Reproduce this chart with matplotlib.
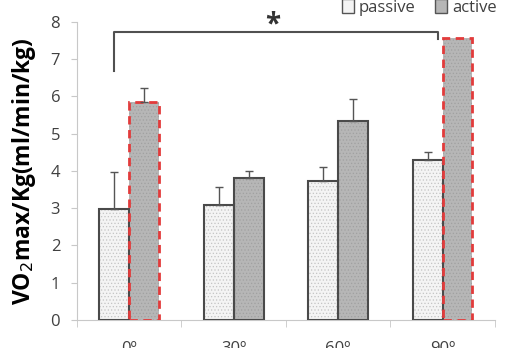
import matplotlib.pyplot as plt
import numpy as np
from matplotlib.patches import Patch

# data
angles = ['0º', '30º', '60º', '90º']
passive = [2.97, 3.08, 3.72, 4.30]
active = [5.85, 3.82, 5.35, 7.57]
passive_err = [1.00, 0.50, 0.38, 0.20]
active_err = [0.37, 0.18, 0.57, 0.0]
highlight = [True, False, False, True]  # red dashed active bars

plt.rcParams['font.family'] = ['Open Sans', 'DejaVu Sans']
plt.rcParams['hatch.linewidth'] = 0.5

fig = plt.figure(figsize=(5.09, 3.48), dpi=100)
ax = fig.add_axes([0.151, 0.0805, 0.821, 0.857])

x = np.arange(len(angles))
w = 0.287
dark = '#4a4a4a'

# passive bars: dotted fill, then outline
plt.rcParams['hatch.color'] = '#c4c4c4'
ax.bar(x - w / 2, passive, w, color='#f4f4f4', hatch='.....', edgecolor='#c4c4c4', linewidth=0, zorder=2)
ax.bar(x - w / 2, passive, w, fill=False, edgecolor=dark, linewidth=1.5, zorder=3)

# active bars
ax.bar(x + w / 2, active, w, color='#b6b6b6', hatch='.....', edgecolor='#a0a0a0', linewidth=0, zorder=2)
for i in range(len(angles)):
    if highlight[i]:
        ax.bar(x[i] + w / 2, active[i], w, fill=False, edgecolor='#e23b3b', linewidth=2,
               linestyle=(0, (3, 2)), zorder=3)
    else:
        ax.bar(x[i] + w / 2, active[i], w, fill=False, edgecolor=dark, linewidth=1.5, zorder=3)

# error bars, upper only
ax.errorbar(x - w / 2, passive, yerr=[np.zeros(4), passive_err], fmt='none',
            ecolor='#555555', elinewidth=1, capsize=3, zorder=4)
ae = np.array(active_err)
m = ae > 0
ax.errorbar((x + w / 2)[m], np.array(active)[m], yerr=[np.zeros(m.sum()), ae[m]], fmt='none',
            ecolor='#555555', elinewidth=1, capsize=3, zorder=4)

# significance bracket
bx0, bx1 = x[0] - w / 2, x[3] - w / 2 + 0.1
ax.plot([bx0, bx0, bx1, bx1], [6.67, 7.72, 7.72, 7.53], color='#505050', lw=1.5,
        clip_on=False, zorder=5)
ax.text(1.37, 7.52, '*', ha='center', va='bottom', fontsize=20, fontweight='bold',
        color='#333333', clip_on=False)

ax.set_xlim(-0.5, 3.5)
ax.set_ylim(0, 8)
ax.set_yticks(range(9))
ax.set_xticks(x)
ax.set_xticklabels(angles, fontsize=12, color='#404040')
ax.set_xticks(np.arange(-0.5, 4, 1), minor=True)
ax.tick_params(axis='x', which='major', length=0, pad=15)
ax.tick_params(axis='x', which='minor', length=5, color='#c8c8c8', direction='out')
ax.tick_params(axis='y', length=4, color='#c8c8c8', labelsize=12, labelcolor='#404040', pad=8)

for s in ['top', 'right']:
    ax.spines[s].set_visible(False)
ax.spines['left'].set_color('#c8c8c8')
ax.spines['bottom'].set_color('#c8c8c8')

ax.set_ylabel('VO$_2$max/Kg(ml/min/kg)', fontsize=16.5, fontweight='bold', labelpad=9)

handles = [Patch(facecolor='#f4f4f4', edgecolor='#555555', label='passive'),
           Patch(facecolor='#b6b6b6', edgecolor='#555555', label='active')]
fig.legend(handles=handles, loc='upper right', bbox_to_anchor=(1.005, 1.045), ncol=2,
           frameon=False, fontsize=12, handlelength=0.7, handleheight=0.9,
           handletextpad=0.3, columnspacing=1.2, labelcolor='#404040')

plt.savefig('out.png', dpi=100)
